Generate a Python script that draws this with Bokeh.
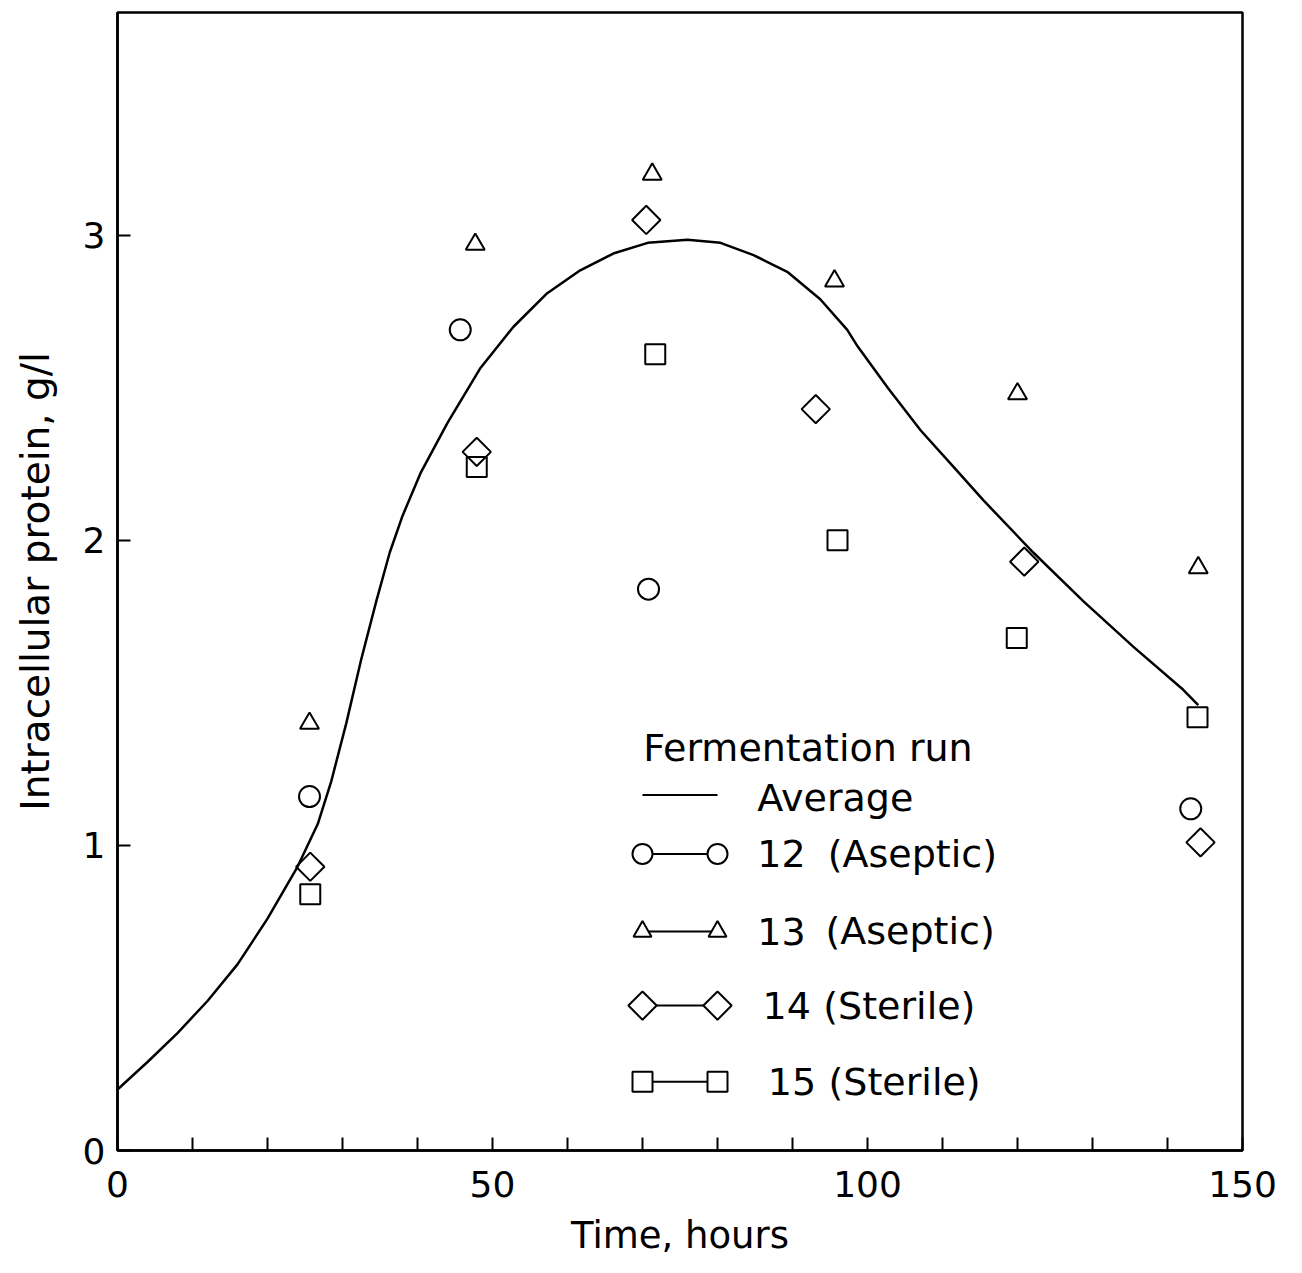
import math
from bokeh.plotting import figure
from bokeh.models import FixedTicker, Range1d
from bokeh.core.properties import value
from bokeh.embed import file_html
from bokeh.resources import INLINE

# ---------------- data ----------------
avg_t = [0, 4.0, 8.0, 12.0, 16.0, 20.0, 24.0, 26.7, 28.5, 30.5, 32.5, 34.5, 36.3, 38.0,
         40.4, 44.0, 48.4, 52.8, 57.3, 61.7, 66.1, 70.7, 76.0, 80.4, 84.8, 89.3, 93.7,
         97.3, 98.7, 102.7, 107.1, 111.5, 115.5, 122.1, 128.8, 135.5, 142.1, 144.1]
avg_y = [0.20, 0.29, 0.385, 0.49, 0.61, 0.76, 0.93, 1.07, 1.21, 1.40, 1.61, 1.80, 1.96, 2.08,
         2.22, 2.385, 2.565, 2.70, 2.81, 2.885, 2.94, 2.975, 2.985, 2.975, 2.935, 2.88, 2.79,
         2.69, 2.635, 2.50, 2.36, 2.24, 2.13, 1.96, 1.80, 1.65, 1.51, 1.46]

run12_t = [25.6, 45.7, 70.8, 143.1]
run12_y = [1.16, 2.69, 1.84, 1.12]

run13_t = [25.6, 47.7, 71.3, 95.6, 120.0, 144.1]
run13_y = [1.40, 2.97, 3.20, 2.85, 2.48, 1.91]

run14_t = [25.7, 47.9, 70.5, 93.1, 120.9, 144.4]
run14_y = [0.93, 2.29, 3.05, 2.43, 1.93, 1.01]

run15_t = [25.7, 47.9, 71.7, 96.0, 119.9, 144.0]
run15_y = [0.84, 2.24, 2.61, 2.00, 1.68, 1.42]

legend_title = "Fermentation run"
legend_avg = "Average"
legend_nums = ["12", "13", "14", "15"]
legend_kinds = ["(Aseptic)", "(Aseptic)", "(Sterile)", "(Sterile)"]

x_ticks = list(range(0, 151, 10))
x_labeled = [0, 50, 100, 150]
y_ticks = [0, 1, 2, 3]

x_title = "Time, hours"
y_title = "Intracellular protein, g/l"

# ---------------- style / layout ----------------
FONT = "DejaVu Sans"

p = figure(width=1302, height=1273,
           x_range=Range1d(0, 150), y_range=Range1d(0, 3.73),
           output_backend="svg", toolbar_location=None,
           min_border_left=117, min_border_right=60,
           min_border_top=12, min_border_bottom=123)
p.xgrid.visible = False
p.ygrid.visible = False
p.background_fill_color = "white"
p.border_fill_color = "white"
p.outline_line_color = "black"
p.outline_line_width = 2.5
p.outline_line_alpha = 1.0

for ax in (p.xaxis[0], p.yaxis[0]):
    ax.axis_line_color = "black"
    ax.axis_line_width = 2.5
    ax.major_tick_in = 13
    ax.major_tick_out = 0
    ax.minor_tick_in = 0
    ax.minor_tick_out = 0
    ax.major_tick_line_width = 2
    ax.major_tick_line_color = "black"
    ax.major_label_text_font = FONT
    ax.major_label_text_font_size = "36px"
    ax.major_label_text_color = "black"
    ax.axis_label_text_font = FONT
    ax.axis_label_text_font_size = "37px"
    ax.axis_label_text_font_style = "normal"
    ax.axis_label_text_color = "black"

p.xaxis[0].ticker = FixedTicker(ticks=x_ticks)
p.xaxis[0].major_label_overrides = {t: (str(t) if t in x_labeled else "") for t in x_ticks}
p.xaxis[0].major_label_standoff = 20
p.xaxis[0].axis_label = x_title
p.xaxis[0].axis_label_standoff = 14

p.yaxis[0].ticker = FixedTicker(ticks=y_ticks)
p.yaxis[0].major_label_standoff = 12
p.yaxis[0].axis_label = y_title
p.yaxis[0].axis_label_text_font_size = "39px"
p.yaxis[0].axis_label_standoff = 22

# average curve
p.line(avg_t, avg_y, line_color="black", line_width=2.5, line_join="round")

# data points (open markers)
MK = dict(line_color="black", line_width=2, fill_alpha=0)
p.scatter(run12_t, run12_y, marker="circle", size=21, **MK)
p.scatter(run13_t, run13_y, marker="triangle", size=19, **MK)
p.scatter(run14_t, run14_y, marker="square", size=20, angle=math.pi / 4, **MK)
p.scatter(run15_t, run15_y, marker="square", size=20, **MK)

# ---------------- hand-drawn legend (layout positions in data units) ----------------
LX0, LX1 = 70.0, 80.0          # left / right sample markers
L_TITLE = (70.1, 1.32)
L_AVG_Y = 1.165
L_AVG_TX = 85.3
ROW_Y = [0.972, 0.718, 0.475, 0.225]
NUM_X = [85.3, 85.3, 86.0, 86.7]
KIND_X = [94.7, 94.4, 94.1, 94.8]
TXT = dict(text_font=value(FONT), text_font_size="38px", text_color="black",
           text_baseline="middle", text_align="left")

p.text([L_TITLE[0]], [L_TITLE[1]], text=[legend_title], **TXT)
p.line([LX0, LX1], [L_AVG_Y, L_AVG_Y], line_color="black", line_width=2)
p.text([L_AVG_TX], [L_AVG_Y - 0.008], text=[legend_avg], **TXT)

for yy in ROW_Y:
    p.line([LX0, LX1], [yy, yy], line_color="black", line_width=2)

LMK = dict(line_color="black", line_width=2, fill_color="white")
p.scatter([LX0, LX1], [ROW_Y[0]] * 2, marker="circle", size=20, **LMK)
p.scatter([LX0, LX1], [ROW_Y[1]] * 2, marker="triangle", size=18, **LMK)
p.scatter([LX0, LX1], [ROW_Y[2]] * 2, marker="square", size=20, angle=math.pi / 4, **LMK)
p.scatter([LX0, LX1], [ROW_Y[3]] * 2, marker="square", size=20, **LMK)

p.text(NUM_X, ROW_Y, text=legend_nums, **TXT)
p.text(KIND_X, ROW_Y, text=legend_kinds, **TXT)

open("out.html", "w").write(file_html(p, INLINE))
